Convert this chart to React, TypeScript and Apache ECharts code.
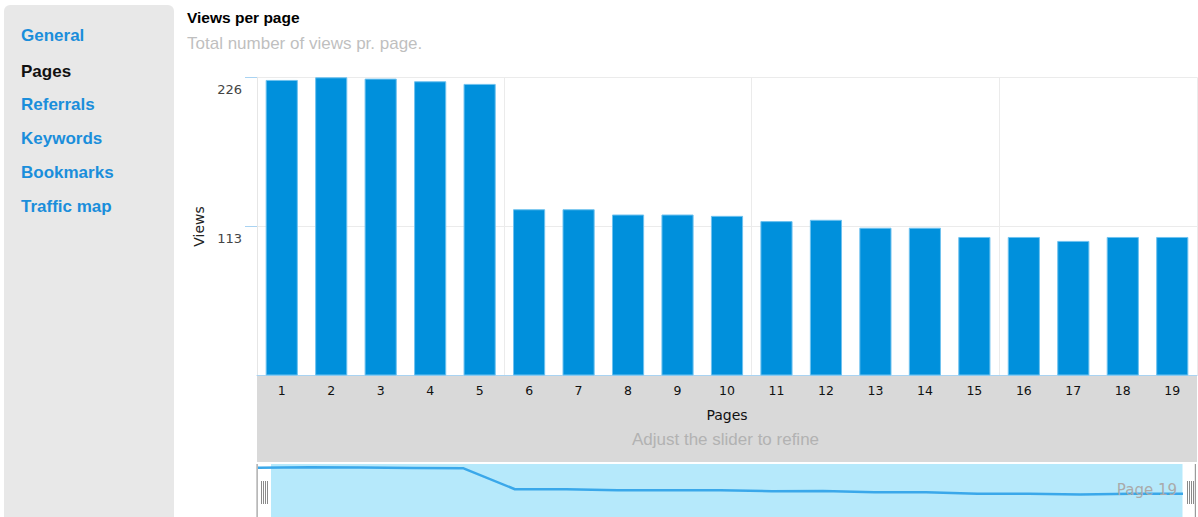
import React, { useEffect, useRef } from "react";
import * as echarts from "echarts";

const pages = ["1","2","3","4","5","6","7","8","9","10","11","12","13","14","15","16","17","18","19"];
const views = [224, 226, 225, 223, 221, 126, 126, 122, 122, 121, 117, 118, 112, 112, 105, 105, 102, 105, 105];
const yTicks = [0, 113, 226];
const navItems = ["General", "Pages", "Referrals", "Keywords", "Bookmarks", "Traffic map"];
const navActive = "Pages";
const navY = [37, 72.5, 105.5, 139.5, 173.5, 207.5];

export default function App() {
  const ref = useRef<HTMLDivElement>(null);
  useEffect(() => {
    if (!ref.current) return;
    const chart = echarts.init(ref.current, undefined, { renderer: "svg" });
    const sans = "'Liberation Sans', Arial, sans-serif";
    const dv = "'DejaVu Sans', Verdana, sans-serif";
    const navGraphics = navItems.map((t, i) => ({
      type: "text",
      left: 21,
      top: navY[i] - 10,
      z: 5,
      style: {
        text: t,
        fill: t === navActive ? "#111111" : "#1a8edb",
        font: `bold 17px ${sans}`,
      },
    }));
    const grips = (x0: number) =>
      [0, 2, 4, 6].map((d) => ({
        type: "rect",
        z: 5,
        shape: { x: x0 + d, y: 481, width: 1, height: 23 },
        style: { fill: "#8a8a8a" },
      }));
    chart.setOption({
      animation: false,
      backgroundColor: "#ffffff",
      title: {
        text: "Views per page",
        subtext: "Total number of views pr. page.",
        left: 187,
        top: 9.5,
        padding: 0,
        itemGap: 9,
        textStyle: { fontFamily: sans, fontWeight: "bold", fontSize: 15.5, color: "#000000" },
        subtextStyle: { fontFamily: sans, fontSize: 17, color: "#bfbfbf" },
      },
      graphic: [
        {
          type: "rect",
          z: -1,
          shape: { x: 4, y: 5, width: 170, height: 540, r: 6 },
          style: { fill: "#e8e8e8" },
        },
        ...navGraphics,
        {
          type: "rect",
          z: -1,
          shape: { x: 257, y: 376, width: 940, height: 86 },
          style: { fill: "#d9d9d9" },
        },
        {
          type: "text",
          z: 5,
          x: 725.5,
          y: 439.5,
          style: {
            text: "Adjust the slider to refine",
            fill: "#b2b2b2",
            font: `17px ${sans}`,
            textAlign: "center",
            textVerticalAlign: "middle",
          },
        },
        {
          type: "rect",
          z: -1,
          shape: { x: 271, y: 464, width: 911.5, height: 60 },
          style: { fill: "#b6e9fb" },
        },
        {
          type: "rect",
          z: 5,
          shape: { x: 256.5, y: 464, width: 1.2, height: 60 },
          style: { fill: "#9a9a9a" },
        },
        {
          type: "rect",
          z: 5,
          shape: { x: 1194.8, y: 464, width: 1.2, height: 60 },
          style: { fill: "#9a9a9a" },
        },
        ...grips(261),
        ...grips(1187),
        {
          type: "text",
          z: 5,
          x: 1177,
          y: 489.5,
          style: {
            text: "Page 19",
            fill: "#aaaaaa",
            font: `15px ${dv}`,
            textAlign: "right",
            textVerticalAlign: "middle",
          },
        },
      ],
      grid: [
        { left: 257, width: 940, top: 77.3, height: 298.2, containLabel: false },
        { left: 258, width: 925, top: 464, height: 57.5, containLabel: false },
      ],
      xAxis: [
        {
          type: "category",
          gridIndex: 0,
          data: pages,
          name: "Pages",
          nameLocation: "middle",
          nameGap: 32,
          nameTextStyle: { fontFamily: dv, fontSize: 14, color: "#111111" },
          axisLine: { show: true, lineStyle: { color: "#a9d3f2", width: 1 } },
          axisTick: { show: false },
          axisLabel: { fontFamily: dv, fontSize: 12.5, color: "#111111", margin: 8 },
          splitLine: {
            show: true,
            interval: (i: number) => i > 0 && i % 5 === 0,
            lineStyle: { color: "#ebebeb", width: 1 },
          },
        },
        {
          type: "category",
          gridIndex: 1,
          data: pages,
          boundaryGap: false,
          show: false,
        },
      ],
      yAxis: [
        {
          type: "value",
          gridIndex: 0,
          min: 0,
          max: 226,
          interval: 113,
          name: "Views",
          nameLocation: "middle",
          nameRotate: 90,
          nameGap: 49,
          nameTextStyle: { fontFamily: dv, fontSize: 14, color: "#222222" },
          axisLine: { show: true, lineStyle: { color: "#e6e6e6", width: 1 } },
          axisTick: { show: true, length: 12, lineStyle: { color: "#a9d3f2", width: 1 } },
          axisLabel: {
            fontFamily: dv,
            fontSize: 13,
            color: "#444444",
            margin: 15,
            verticalAlign: "top",
            padding: [6, 0, 0, 0],
            showMinLabel: false,
            formatter: (v: number) => (yTicks.includes(v) && v !== 0 ? String(v) : ""),
          },
          splitLine: { show: true, lineStyle: { color: "#ebebeb", width: 1 } },
        },
        {
          type: "value",
          gridIndex: 1,
          min: 0,
          max: 240.6,
          show: false,
          splitLine: { show: false },
        },
      ],
      series: [
        {
          type: "bar",
          xAxisIndex: 0,
          yAxisIndex: 0,
          data: views,
          barCategoryGap: "35%",
          itemStyle: { color: "#0090dc", borderColor: "#6fc2ef", borderWidth: 1 },
        },
        {
          type: "line",
          xAxisIndex: 1,
          yAxisIndex: 1,
          data: views,
          symbol: "none",
          lineStyle: { color: "#3aa8ea", width: 2.5 },
        },
      ],
    });
    return () => chart.dispose();
  }, []);
  return (
    <div
      ref={ref}
      style={{ position: "absolute", left: 0, top: 0, width: 1198, height: 517 }}
    />
  );
}
